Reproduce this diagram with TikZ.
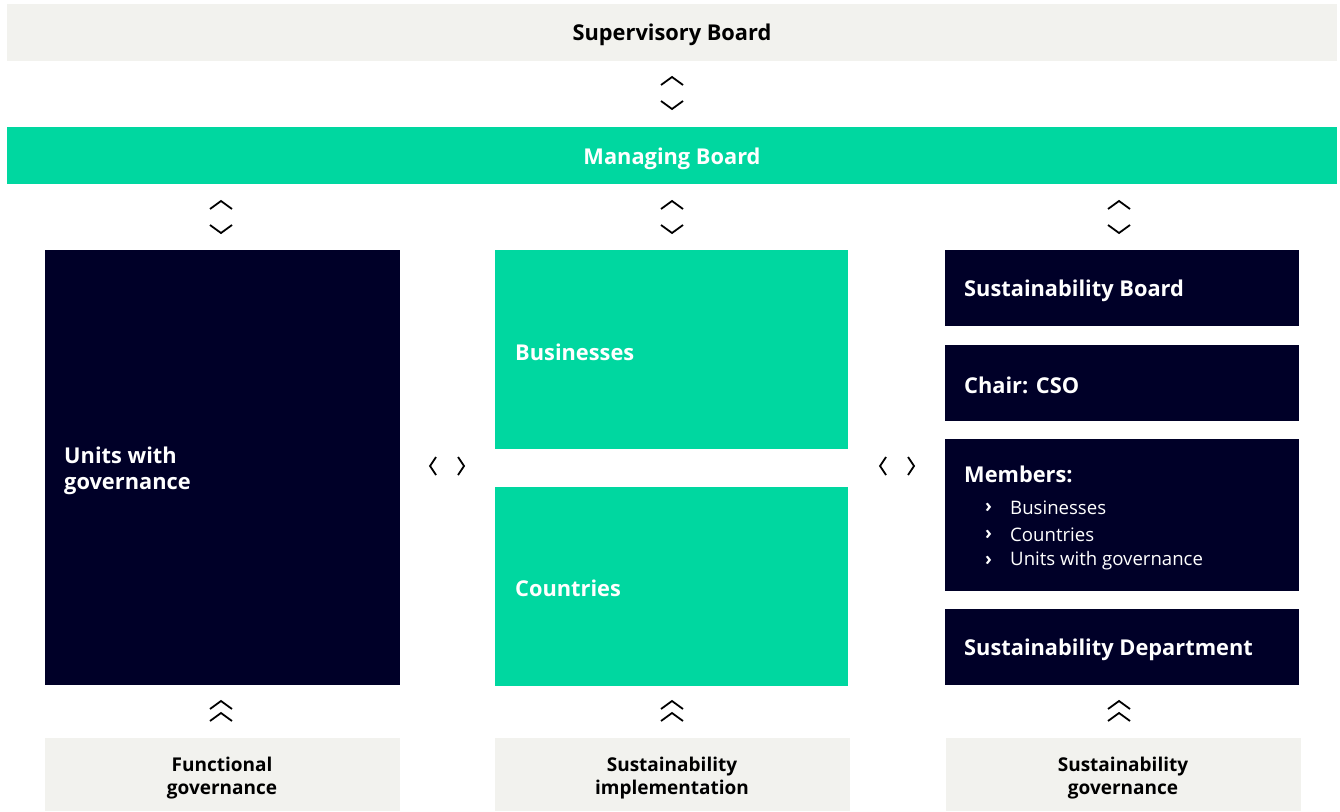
\documentclass[tikz,border=0pt]{standalone}
\usepackage{fontspec}
\setmainfont{Open Sans}
\definecolor{navy}{HTML}{000028}
\definecolor{petrol}{HTML}{00D7A0}
\definecolor{lightgrey}{HTML}{F2F2EE}
\tikzset{
  box/.style={draw=none, inner sep=0pt, outer sep=0pt, anchor=north west},
  greybox/.style={box, fill=lightgrey},
  greenbox/.style={box, fill=petrol},
  navybox/.style={box, fill=navy},
  head/.style={font=\fontsize{21.8}{26}\selectfont\bfseries, inner sep=0pt},
  lefttxt/.style={head, text=white, anchor=west, align=left},
  bottomtxt/.style={font=\fontsize{19}{23}\selectfont\bfseries, inner sep=0pt, align=center},
  itemtxt/.style={font=\fontsize{18.6}{23}\selectfont, text=white, inner sep=0pt, anchor=west},
  bullet/.style={itemtxt, font=\fontsize{18.6}{23}\selectfont\bfseries},
  chev/.style={draw=black, line width=1.8pt, line cap=butt, line join=miter},
}
\newcommand{\updown}[2]{%
  \draw[chev] (#1-11,#2-8) -- (#1,#2-16) -- (#1+11,#2-8);
  \draw[chev] (#1-11,#2+8) -- (#1,#2+16) -- (#1+11,#2+8);}
\newcommand{\dblup}[2]{%
  \draw[chev] (#1-11,#2-2) -- (#1,#2-10) -- (#1+11,#2-2);
  \draw[chev] (#1-11,#2+10) -- (#1,#2+2) -- (#1+11,#2+10);}
\newcommand{\leftright}[2]{%
  \draw[chev] (#1-11,#2-9) -- (#1-17,#2) -- (#1-11,#2+9);
  \draw[chev] (#1+11,#2-9) -- (#1+17,#2) -- (#1+11,#2+9);}
\begin{document}
\begin{tikzpicture}[x=1pt,y=-1pt]
\useasboundingbox (0,0) rectangle (1340,811);
% top boards
\node[greybox, minimum width=1330pt, minimum height=57pt] (sup) at (7,4) {};
\node[head] (suptxt) at (672,35) {Supervisory Board};
\node[greenbox, minimum width=1330pt, minimum height=57pt] (man) at (7,127) {};
\node[head, text=white] (mantxt) at (672,159) {Managing Board};
% left column
\node[navybox, minimum width=355pt, minimum height=435pt] (units) at (45,250) {};
\node[lefttxt] (unitstxt) at (64,471) {Units with\\governance};
% middle column
\node[greenbox, minimum width=353pt, minimum height=199pt] (bus) at (495,250) {};
\node[lefttxt] (bustxt) at (515,352) {Businesses};
\node[greenbox, minimum width=353pt, minimum height=199pt] (cty) at (495,487) {};
\node[lefttxt] (ctytxt) at (515,588) {Countries};
% right column
\node[navybox, minimum width=354pt, minimum height=76pt] (sb) at (945,250) {};
\node[lefttxt] (sbtxt) at (964,291) {Sustainability Board};
\node[navybox, minimum width=354pt, minimum height=76pt] (chair) at (945,345) {};
\node[lefttxt] (chairtxt) at (964,385) {Chair: CSO};
\node[navybox, minimum width=354pt, minimum height=152pt] (mem) at (945,439) {};
\node[lefttxt] (memtxt) at (964,474) {Members:};
\node[bullet] (b1) at (985,508) {›};
\node[itemtxt] (i1) at (1010,508) {Businesses};
\node[bullet] (b2) at (985,535) {›};
\node[itemtxt] (i2) at (1010,535) {Countries};
\node[bullet] (b3) at (985,561) {›};
\node[itemtxt] (i3) at (1010,561) {Units with governance};
\node[navybox, minimum width=354pt, minimum height=76pt] (dept) at (945,609) {};
\node[lefttxt] (depttxt) at (964,650) {Sustainability Department};
% bottom boxes
\node[greybox, minimum width=355pt, minimum height=73pt] (fg) at (45,738) {};
\node[bottomtxt] (fgtxt) at (222,778) {Functional\\governance};
\node[greybox, minimum width=355pt, minimum height=73pt] (si) at (495,738) {};
\node[bottomtxt] (sitxt) at (672,778) {Sustainability\\implementation};
\node[greybox, minimum width=355pt, minimum height=73pt] (sg) at (946,738) {};
\node[bottomtxt] (sgtxt) at (1123,778) {Sustainability\\governance};
% chevrons
\updown{672}{93}
\updown{221}{217}
\updown{672}{217}
\updown{1119}{217}
\leftright{447}{466}
\leftright{897}{466}
\dblup{221}{711}
\dblup{672}{711}
\dblup{1119}{711}
\end{tikzpicture}
\end{document}
